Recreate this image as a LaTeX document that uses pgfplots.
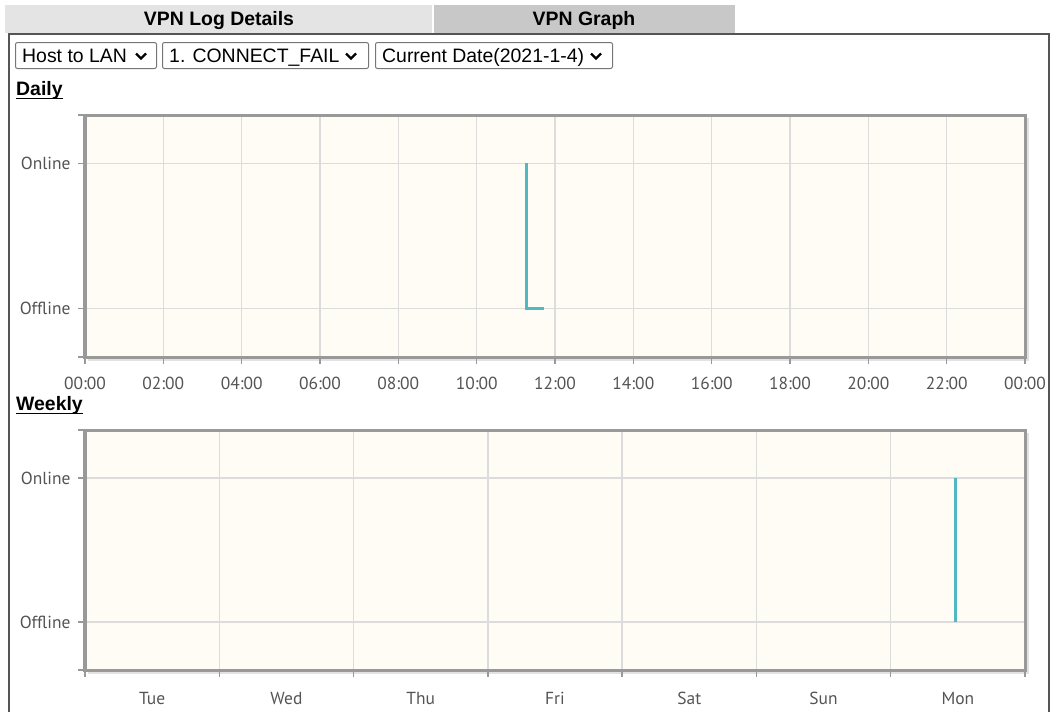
\documentclass[border=0pt]{standalone}
\usepackage{fontspec}
\setmainfont{Liberation Sans}
\newfontfamily\chartfont{PT Sans}
\usepackage{pgfplots}
\pgfplotsset{compat=1.18}
\definecolor{tabA}{RGB}{228,228,228}
\definecolor{tabB}{RGB}{200,200,200}
\definecolor{boxline}{RGB}{85,85,85}
\definecolor{ddline}{RGB}{118,118,118}
\definecolor{plotbg}{RGB}{255,252,245}
\definecolor{framec}{RGB}{153,153,153}
\definecolor{gridc}{RGB}{220,220,220}
\definecolor{tickc}{RGB}{84,84,84}
\definecolor{teal1}{RGB}{80,184,192}
\definecolor{shadowc}{RGB}{226,226,226}
\pgfplotsset{
  vpn/.style={
    scale only axis, width=940bp,
    ymin=-0.3333, ymax=1.3333,
    ytick={-0.3333,0,1,1.3333},
    yticklabels={,Offline,Online,},
    tick pos=left, tick align=outside,
    major tick length=7bp,
    tick style={framec, line width=1.5bp},
    axis line style={framec, line width=3bp},
    axis background/.style={fill=plotbg},
    grid=major, major grid style={gridc, line width=1.5bp},
    ticklabel style={font=\chartfont\fontsize{17.5}{18}\selectfont, text=tickc},
    xticklabel style={yshift=-10bp},
    yticklabel style={xshift=-4bp},
  }
}
\begin{document}
\begin{tikzpicture}
\begin{scope}[x=1bp,y=-1bp]
  % tabs
  \fill[tabA] (5,5) rectangle (432,33);
  \fill[tabB] (434,5) rectangle (735,33);
  \node[anchor=base, inner sep=0, font=\bfseries\fontsize{19.5}{20}\selectfont] at (219,25.5) {VPN Log Details};
  \node[anchor=base, inner sep=0, font=\bfseries\fontsize{19.5}{20}\selectfont] at (584,25.5) {VPN Graph};
  % main box
  \draw[boxline, line width=2.2bp] (9,730) -- (9,34) -- (1049,34) -- (1049,730);
  % dropdowns
  \begin{scope}[ddline, line width=1bp, rounded corners=2bp]
    \draw (15.5,42.5) rectangle (156.5,68.5);
    \draw (162.5,42.5) rectangle (368.5,68.5);
    \draw (375.5,42.5) rectangle (612.5,68.5);
  \end{scope}
  \begin{scope}[font=\fontsize{19.5}{20}\selectfont]
    \node[anchor=base west, inner sep=0] at (22,62.5) {Host to LAN};
    \node[anchor=base west, inner sep=0] at (169,62.5) {1. CONNECT\_FAIL};
    \node[anchor=base west, inner sep=0] at (382,62.5) {Current Date(2021-1-4)};
  \end{scope}
  \begin{scope}[black, line width=2.2bp]
    \draw (136,53.5) -- (141,58.5) -- (146,53.5);
    \draw (346,53.5) -- (351,58.5) -- (356,53.5);
    \draw (591,53.5) -- (596,58.5) -- (601,53.5);
  \end{scope}
  % section titles
  \node (d) [anchor=base west, inner sep=0, font=\bfseries\fontsize{19.5}{20}\selectfont] at (16,95) {Daily};
  \draw[line width=1.6bp] ([yshift=-3.5bp]d.base west) -- ([yshift=-3.5bp]d.base east);
  \node (w) [anchor=base west, inner sep=0, font=\bfseries\fontsize{19.5}{20}\selectfont] at (16,410) {Weekly};
  \draw[line width=1.6bp] ([yshift=-3.5bp]w.base west) -- ([yshift=-3.5bp]w.base east);
  % shadows
  \fill[shadowc] (88,118) rectangle (1028.5,360.5);
  \fill[shadowc] (88,433) rectangle (1028.5,673.5);
\end{scope}

\begin{axis}[vpn, at={(85bp,-115bp)}, anchor=north west, height=242bp,
  xmin=0, xmax=24, xtick={0,2,...,24},
  xticklabels={00:00,02:00,04:00,06:00,08:00,10:00,12:00,14:00,16:00,18:00,20:00,22:00,00:00}]
  \addplot[teal1, line width=3bp] coordinates {(11.28,1) (11.28,0) (11.72,0)};
\end{axis}

\begin{axis}[vpn, at={(85bp,-430bp)}, anchor=north west, height=240bp,
  xmin=0, xmax=7, xtick={0,1,...,7}, xticklabels={,,,,,,,,},
  extra x ticks={0.5,1.5,2.5,3.5,4.5,5.5,6.5},
  extra x tick labels={Tue,Wed,Thu,Fri,Sat,Sun,Mon},
  extra x tick style={grid=none, major tick style={draw=none},
    xticklabel style={yshift=-2bp}}]
  \addplot[teal1, line width=3bp] coordinates {(6.486,1) (6.486,0)};
\end{axis}

\pgfresetboundingbox
\path (0,0) rectangle (1053bp,-712bp);
\end{tikzpicture}
\end{document}
